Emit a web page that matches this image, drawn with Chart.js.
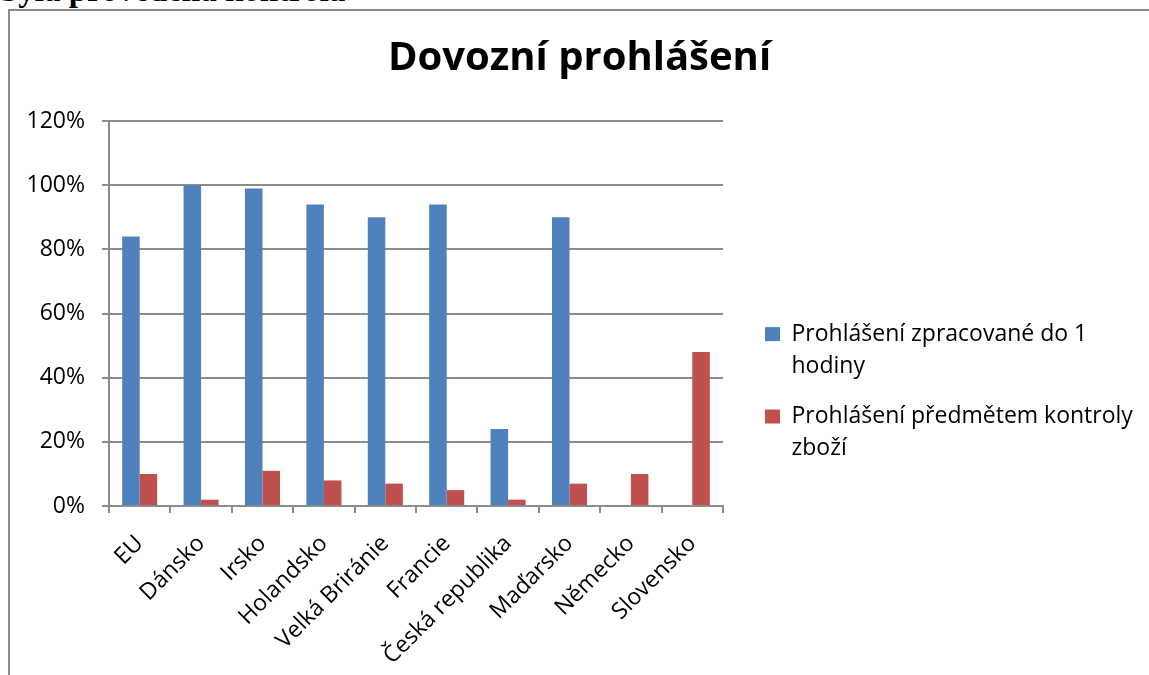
<!DOCTYPE html>
<html>
<head>
<meta charset="utf-8">
<script src="https://cdn.jsdelivr.net/npm/chart.js@4.4.1/dist/chart.umd.min.js"></script>
<style>
  html, body { margin: 0; padding: 0; background: #fff; overflow: hidden; width: 1149px; height: 675px; }
  #head { position: absolute; left: 0; top: -26px; font: bold 33px/33px "Liberation Serif", "DejaVu Serif", serif; color: #000; white-space: nowrap; }
  #frame { position: absolute; left: 8px; top: 9px; width: 1160px; height: 700px; border: 2px solid #8c8c8c; box-sizing: border-box; background: #fff; }
  #wrap { position: absolute; left: 10px; top: 11px; width: 1139px; height: 676px; }
</style>
</head>
<body>
<div id="head">byla provedena kontrola</div>
<div id="frame"></div>
<div id="wrap"><canvas id="c"></canvas></div>
<script>
const categories = ["EU", "Dánsko", "Irsko", "Holandsko", "Velká Briránie", "Francie", "Česká republika", "Maďarsko", "Německo", "Slovensko"];
const seriesNames = [["Prohlášení zpracované do 1", "hodiny"], ["Prohlášení předmětem kontroly", "zboží"]];
const processedWithinHour = [84, 100, 99, 94, 90, 94, 24, 90, null, null];
const subjectToControl = [10, 2, 11, 8, 7, 5, 2, 7, 10, 48];
const yTicks = [0, 20, 40, 60, 80, 100, 120];
const titleText = "Dovozní prohlášení";

const FONT = "'Open Sans', Lato, sans-serif";
const GRID = "#8c8c8c";

// fixes the legend box width (so the plot area ends where it does in the reference) and nudges it
const legendPlace = {
  id: "legendPlace",
  beforeLayout(chart) {
    const lg = chart.legend;
    if (lg && !lg._patched) {
      const fit = lg.fit.bind(lg);
      lg.fit = function () { fit(); this.width = 426; };
      lg._patched = true;
    }
  },
  afterLayout(chart) {
    const lg = chart.legend;
    if (!lg) return;
    const dx = 24, dy = 47;
    lg.left += dx; lg.right += dx; lg.top += dy; lg.bottom += dy;
  }
};

new Chart(document.getElementById("c"), {
  type: "bar",
  data: {
    labels: categories,
    datasets: [
      { label: seriesNames[0], data: processedWithinHour, backgroundColor: "#4F81BD", borderWidth: 0 },
      { label: seriesNames[1], data: subjectToControl, backgroundColor: "#C0504D", borderWidth: 0 }
    ]
  },
  plugins: [legendPlace],
  options: {
    responsive: true,
    maintainAspectRatio: false,
    animation: false,
    events: [],
    datasets: { bar: { categoryPercentage: 0.571, barPercentage: 1.0 } },
    layout: { padding: { left: 0, right: 0, top: 0, bottom: 0 } },
    plugins: {
      title: {
        display: true, text: titleText, color: "#000",
        font: { family: FONT, size: 40, weight: "bold" },
        padding: { top: 24, bottom: 38 }
      },
      legend: {
        position: "right",
        align: "center",
        labels: {
          color: "#000",
          font: { family: FONT, size: 23, lineHeight: 1.4 },
          boxWidth: 15, boxHeight: 14, padding: 18
        }
      },
      tooltip: { enabled: false }
    },
    scales: {
      x: {
        grid: { offset: true, drawOnChartArea: false, drawTicks: true, tickLength: 7, color: GRID, lineWidth: 2 },
        border: { color: GRID, width: 2 },
        ticks: { color: "#000", font: { family: FONT, size: 23 }, minRotation: 45, maxRotation: 45, autoSkip: false, padding: 17 }
      },
      y: {
        min: 0, max: 120,
        afterBuildTicks: (s) => { s.ticks = yTicks.map(v => ({ value: v })); },
        afterFit: (s) => { s.width = 99; },
        grid: { color: GRID, lineWidth: 2, tickLength: 7 },
        border: { color: GRID, width: 2 },
        ticks: { color: "#000", font: { family: FONT, size: 23 }, padding: 17, callback: (v) => v + "%" }
      }
    }
  }
});
</script>
</body>
</html>
